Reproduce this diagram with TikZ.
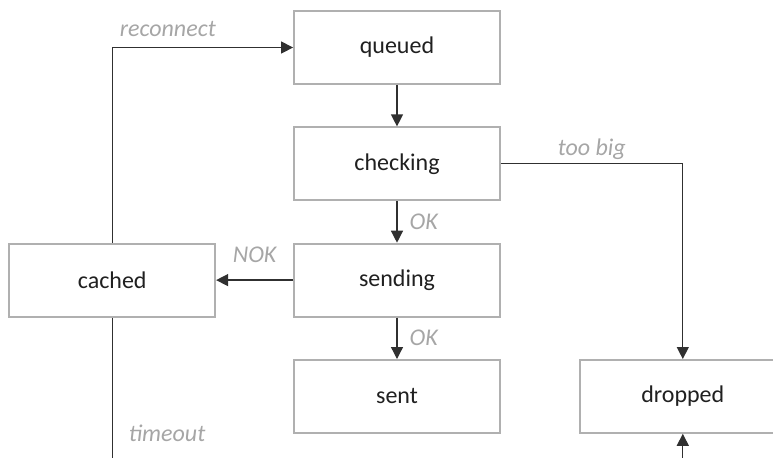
\documentclass[tikz,border=0pt]{standalone}
\usepackage{fontspec}
\setmainfont{Carlito}
\usetikzlibrary{arrows.meta,positioning}
\definecolor{borde}{HTML}{B0B0B0}
\definecolor{linea}{HTML}{303030}
\definecolor{gris}{HTML}{A6A6A6}
\definecolor{texto}{HTML}{202020}

\begin{document}
\begin{tikzpicture}[
  caja/.style={draw=borde,line width=0.9pt,fill=white,minimum width=103pt,minimum height=36.5pt,
               inner sep=0pt,font=\fontsize{12}{14}\selectfont,text=texto},
  flecha/.style={-{Triangle[length=6pt,width=6pt]},line width=0.65pt,draw=linea},
  etiqueta/.style={font=\fontsize{12}{14}\selectfont\itshape,text=gris,inner sep=2pt}]
  \useasboundingbox (0,0) rectangle (386.5pt,-228.5pt);
  % estados
  \node[caja] (queued) at (198.5pt,-23.75pt) {queued};
  \node[caja,below=20.75pt of queued] (checking) {checking};
  \node[caja,below=20.75pt of checking] (sending) {sending};
  \node[caja,below=20.75pt of sending] (sent) {sent};
  \node[caja,left=38.5pt of sending] (cached) {cached};
  \node[caja,right=39pt of sent] (dropped) {dropped};
  \coordinate (fuera1) at (cached.south |- 0,-240pt);
  \coordinate (fuera2) at (dropped.south |- 0,-240pt);
  % transiciones
  \draw[flecha] (queued) -- (checking);
  \draw[flecha] (checking) -- node[etiqueta,right,xshift=4pt] {OK} (sending);
  \draw[flecha] (sending) -- node[etiqueta,right,xshift=4pt] {OK} (sent);
  \draw[flecha] (sending) -- node[etiqueta,above,yshift=6.5pt] {NOK} (cached);
  \draw[flecha] (cached.north) |- node[etiqueta,pos=0.5,above right,xshift=1.5pt,yshift=3pt] {reconnect} (queued.west);
  \draw[flecha] (checking.east) -| node[etiqueta,pos=0.25,above] {too big} (dropped.north);
  \draw[line width=0.65pt,draw=linea] (cached.south) -- node[etiqueta,pos=0.71,right,xshift=6pt] {timeout} (fuera1);
  \draw[flecha] (fuera2) -- (dropped.south);
\end{tikzpicture}
\end{document}
